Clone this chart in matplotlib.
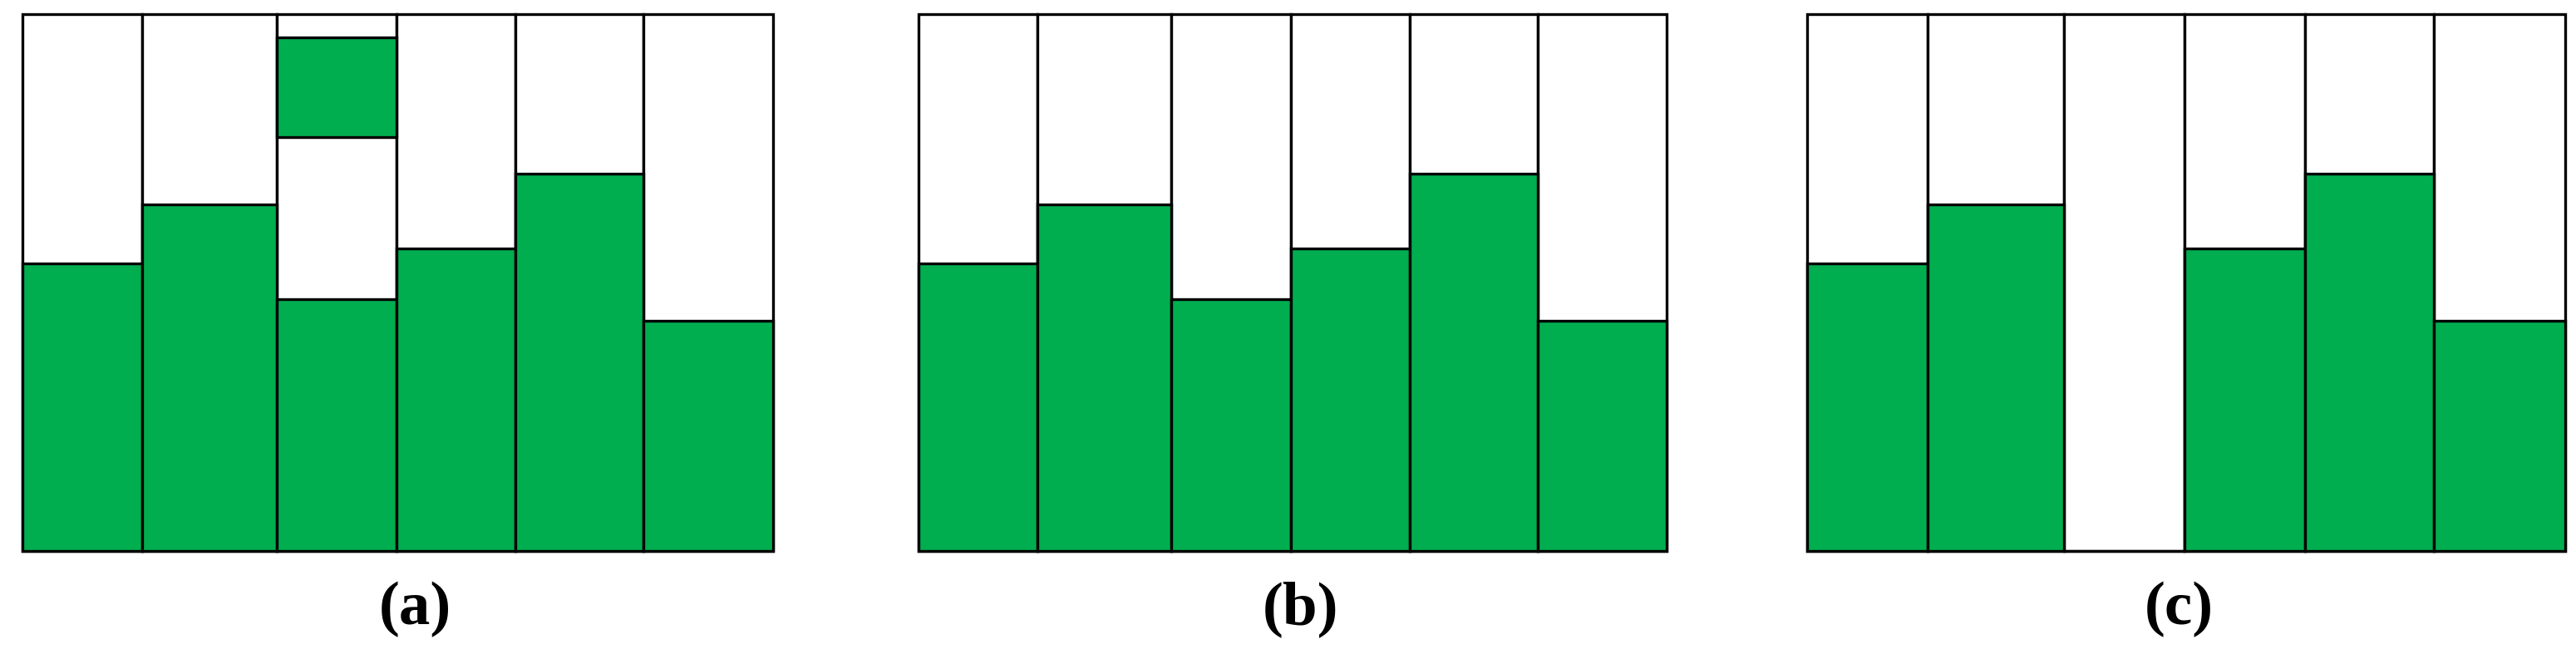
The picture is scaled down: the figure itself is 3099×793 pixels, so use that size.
import numpy as np
import matplotlib
matplotlib.use("Agg")
import matplotlib.pyplot as plt

# =====================================================
# DATA
# =====================================================
col_widths = [144, 162, 144, 144, 154, 156]
heights_a = [53.6, 64.5, 46.9, 56.4, 70.2, 42.8]
heights_b = [53.6, 64.5, 46.9, 56.4, 70.2, 42.8]
heights_c = [53.6, 64.5, 0.0, 56.4, 70.2, 42.8]

# floating block in panel (a), column 3
float_col = 2
float_bottom = 77.0
float_top = 95.7

panel_labels = ["(a)", "(b)", "(c)"]
full_height = 100

GREEN = "#00AE4F"
LW = 2.4

# =====================================================
# FIGURE
# =====================================================
fig = plt.figure(figsize=(30.99, 7.93), dpi=100)

# axes boxes in figure fraction (left, bottom, width, height)
boxes = [
    (0.00871, 0.1639, 0.2914, 0.8150),
    (0.35645, 0.1639, 0.2906, 0.8150),
    (0.70152, 0.1639, 0.2942, 0.8150),
]
label_x = [0.161, 0.505, 0.846]

widths = np.array(col_widths, dtype=float)
lefts = np.concatenate([[0], np.cumsum(widths)[:-1]])

for i, (box, heights) in enumerate(zip(boxes, [heights_a, heights_b, heights_c])):
    ax = fig.add_axes(box)

    # empty columns (full height)
    ax.bar(lefts, full_height, width=widths, align="edge",
           color="white", edgecolor="black", linewidth=LW, clip_on=False)
    # green bars
    ax.bar(lefts, heights, width=widths, align="edge",
           color=GREEN, edgecolor="black", linewidth=LW, clip_on=False)

    if i == 0:
        ax.bar(lefts[float_col], float_top - float_bottom, bottom=float_bottom,
               width=widths[float_col], align="edge",
               color=GREEN, edgecolor="black", linewidth=LW, clip_on=False)

    ax.set_xlim(0, widths.sum())
    ax.set_ylim(0, full_height)
    ax.axis("off")

    fig.text(label_x[i], 0.076, panel_labels[i], ha="center", va="center",
             fontsize=54, fontweight="bold", family="Liberation Serif")

fig.savefig("out.png", dpi=100, facecolor="white")
